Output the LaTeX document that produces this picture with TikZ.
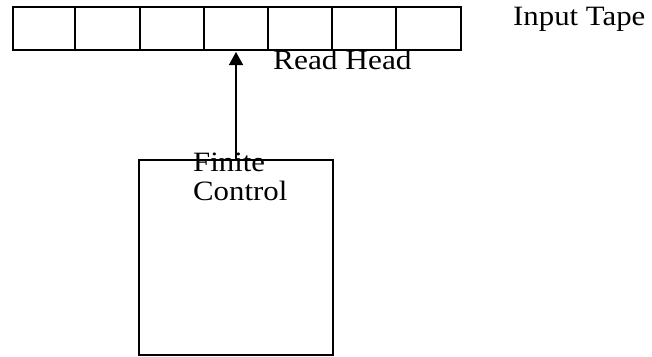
\documentclass[tikz,border=0pt]{standalone}
\usepackage{fontspec}
\setmainfont{Liberation Serif}
\usetikzlibrary{arrows.meta}
\begin{document}
\begin{tikzpicture}[x=1pt,y=-1pt,
  cell/.style={draw,line width=1.5pt,inner sep=0pt,anchor=north west,minimum height=43pt},
  lbl/.style={inner sep=0pt,anchor=base west,font=\fontsize{28}{31}\selectfont},
  ctrl/.style={draw,line width=1.5pt,inner sep=0pt,anchor=north west,minimum width=194pt,minimum height=195pt}]
\useasboundingbox (0,0) rectangle (652,356);
\node[cell,minimum width=62pt] (c1) at (12,6) {};
\node[cell,minimum width=65pt] (c2) at (74,6) {};
\node[cell,minimum width=64pt] (c3) at (139,6) {};
\node[cell,minimum width=64pt] (c4) at (203,6) {};
\node[cell,minimum width=64pt] (c5) at (267,6) {};
\node[cell,minimum width=64pt] (c6) at (331,6) {};
\node[cell,minimum width=65pt] (c7) at (395,6) {};
\node[ctrl] (fc) at (138,159) {};
\coordinate (tip) at (236,52);
\coordinate (base) at (236,159);
\draw[line width=1.5pt,-{Triangle[length=13pt,width=14pt]}] (base) -- (tip);
\node[lbl] (tape) at (513,25) {\scalebox{1.1}[1]{Input Tape}};
\node[lbl] (head) at (273,69) {\scalebox{1.12}[1]{Read Head}};
\node[lbl] (fin) at (193,171) {\scalebox{1.1}[1]{Finite}};
\node[lbl] (con) at (193,200) {\scalebox{1.1}[1]{Control}};
\end{tikzpicture}
\end{document}
